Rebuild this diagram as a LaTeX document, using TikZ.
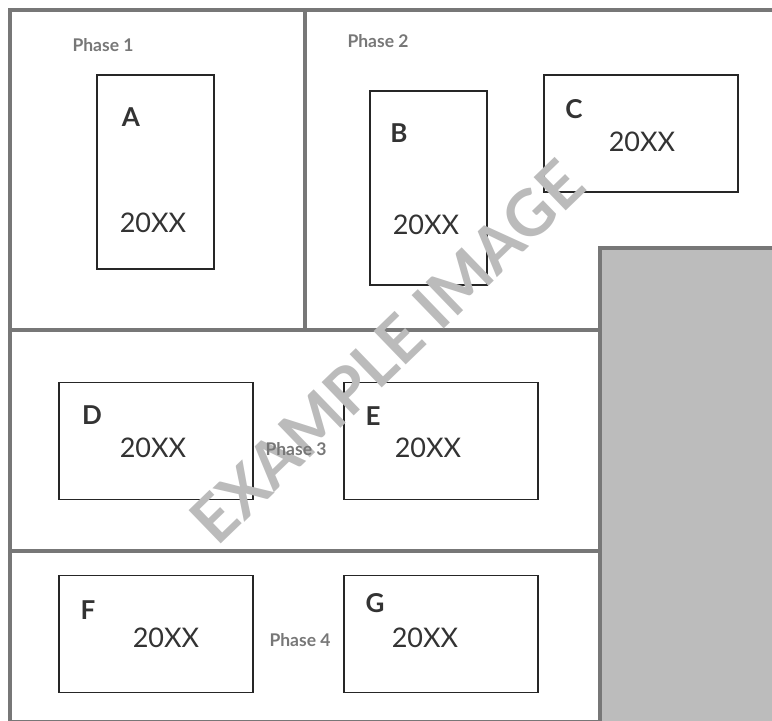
\documentclass[tikz,border=0pt]{standalone}
\usepackage{fontspec}
\setmainfont{Lato}
\definecolor{framegray}{HTML}{777777}
\definecolor{blockgray}{HTML}{BCBCBC}
\definecolor{markgray}{HTML}{BBBBBB}
\definecolor{inkgray}{HTML}{333333}
\tikzset{
  frame/.style={draw=framegray,line width=4pt},
  item/.style={draw=black!85,line width=1.3pt,fill=white,inner sep=0pt},
  letter/.style={font=\fontsize{26}{26}\selectfont\bfseries,text=inkgray},
  year/.style={font=\fontsize{27}{27}\selectfont,text=inkgray},
  phase/.style={font=\fontsize{17.5}{17.5}\selectfont\bfseries,text=framegray}
}
\begin{document}
\begin{tikzpicture}[x=1pt,y=-1pt]
\useasboundingbox (0,0) rectangle (772,721);

% outer frame and the grey block
\draw[frame] (10,10) rectangle (776,722);
\draw[frame,fill=blockgray] (600,248) rectangle (776,726);

% dividers between the phases
\coordinate (P12top) at (305,10);
\coordinate (P12bot) at (305,330);
\coordinate (R1left) at (10,330);
\coordinate (R1right) at (600,330);
\coordinate (R2left) at (10,551);
\coordinate (R2right) at (600,551);
\draw[frame] (P12top)--(P12bot);
\draw[frame] (R1left)--(R1right);
\draw[frame] (R2left)--(R2right);

% boxes
\node[item,minimum width=117pt,minimum height=194pt] (boxA) at (155.5,172) {};
\node[item,minimum width=117pt,minimum height=194pt] (boxB) at (428.5,188) {};
\node[item,minimum width=194pt,minimum height=117pt] (boxC) at (641,133.5) {};
\node[item,minimum width=194pt,minimum height=117pt] (boxD) at (156,441) {};
\node[item,minimum width=194pt,minimum height=117pt] (boxE) at (441,441) {};
\node[item,minimum width=194pt,minimum height=117pt] (boxF) at (156,634) {};
\node[item,minimum width=194pt,minimum height=117pt] (boxG) at (441,634) {};

% letters and years
\node[letter] (lA) at (131,117) {A};
\node[year] (yA) at (153,223) {20XX};
\node[letter] (lB) at (399,133) {B};
\node[year] (yB) at (426,225) {20XX};
\node[letter] (lC) at (574,109) {C};
\node[year] (yC) at (642,142) {20XX};
\node[letter] (lD) at (92,415) {D};
\node[year] (yD) at (153,448) {20XX};
\node[letter] (lE) at (373,416) {E};
\node[year] (yE) at (428,448) {20XX};
\node[letter] (lF) at (88,610) {F};
\node[year] (yF) at (166,638) {20XX};
\node[letter] (lG) at (375,603) {G};
\node[year] (yG) at (425,638) {20XX};

% watermark
\node[font=\fontsize{64}{64}\selectfont\bfseries,text=markgray,rotate=44] (mark) at (387,352) {EXAMPLE IMAGE};

% phase names
\node[phase] (ph1) at (103,45) {Phase 1};
\node[phase] (ph2) at (378,41) {Phase 2};
\node[phase] (ph3) at (296,449) {Phase 3};
\node[phase] (ph4) at (300,640) {Phase 4};
\end{tikzpicture}
\end{document}
